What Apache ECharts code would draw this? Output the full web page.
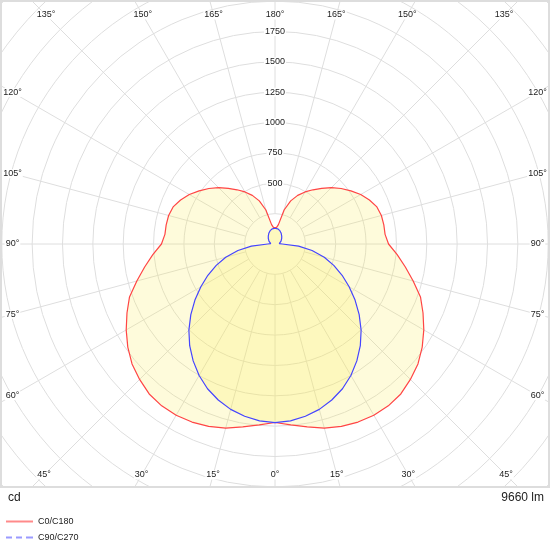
<!DOCTYPE html>
<html><head><meta charset="utf-8">
<script src="https://cdn.jsdelivr.net/npm/echarts@6/dist/echarts.min.js"></script>
<style>html,body{margin:0;padding:0;background:#fff}#c{width:550px;height:550px}</style>
</head><body><div id="c"></div>
<script>
// gamma angles (degrees)
const gamma = [0,5,10,15,20,25,30,35,40,45,50,55,60,65,70,75,80,85,90,95,100,105,110,115,120,125,130,135,140,145,150,155,160,165,170,175,180];
// C0/C180 intensities (cd)
const c0c180 = [1470,1495,1530,1570,1598,1618,1628,1627,1612,1577,1537,1480,1415,1345,1275,1178,1090,1010,935,910,910,907,893,858,815,763,711,657,598,545,495,442,378,290,162,135,125];
// C90/C270 intensities (cd)
const c90c270 = [1471,1462,1440,1410,1367,1315,1250,1175,1093,1003,905,805,705,610,515,420,310,195,60,35,40,45,50,55,60,66,72,79,86,94,102,110,117,123,127,129,130];
// tick labels
const radiusTicks = [500,750,1000,1250,1500,1750];
const angleTicks = [0,15,30,45,60,75,90,105,120,135,150,165,180];
const seriesNames = ['C0/C180','C90/C270'];
const unitLabel = 'cd';
const fluxLabel = '9660 lm';

const CX = 275, CY = 244, PX_PER_CD = 212.5/1750, RMAX = 3250;
const R = RMAX*PX_PER_CD, RIN = 250*PX_PER_CD;
const FONT = '"Liberation Sans", Arial, sans-serif';

function loop(vals){
  const d = [];
  for (let i=0;i<gamma.length;i++) d.push([vals[i], gamma[i]]);
  for (let i=gamma.length-2;i>=0;i--) d.push([vals[i], 360-gamma[i]]);
  return d;
}

const chart = echarts.init(document.getElementById('c'));
const hidden = {axisLine:{show:false},axisTick:{show:false},axisLabel:{show:false}};
chart.setOption({
  animation:false,
  polar:[{center:[CX,CY],radius:[RIN,R]},{center:[CX,CY],radius:[0,R]}],
  angleAxis:[
    Object.assign({polarIndex:0,type:'value',min:0,max:360,interval:15,startAngle:270,clockwise:false,
      splitLine:{show:true,lineStyle:{color:'#dedede',width:1}}},hidden),
    Object.assign({polarIndex:1,type:'value',min:0,max:360,interval:15,startAngle:270,clockwise:false,
      splitLine:{show:false}},hidden)
  ],
  radiusAxis:[
    Object.assign({polarIndex:0,type:'value',min:250,max:RMAX,interval:250,
      splitLine:{show:true,lineStyle:{color:'#dedede',width:1}}},hidden),
    Object.assign({polarIndex:1,type:'value',min:0,max:RMAX,interval:250,splitLine:{show:false}},hidden)
  ],
  legend:{
    orient:'vertical', left:6, top:517, padding:0, itemWidth:27, itemHeight:2, itemGap:7, z:60,
    textStyle:{fontFamily:FONT,fontSize:9,color:'#222'},
    data:[
      {name:seriesNames[0], icon:'path://M0,0h27v2h-27z', itemStyle:{color:'#ff8a8a',borderWidth:0}},
      {name:seriesNames[1], icon:'path://M0,0h6v2h-6zM10,0h6v2h-6zM20,0h7v2h-7z', itemStyle:{color:'#9a9aff',borderWidth:0}}
    ]
  },
  series:[
    {type:'line',name:seriesNames[0],coordinateSystem:'polar',polarIndex:1,data:loop(c0c180),
     symbol:'none',smooth:false,z:3,
     lineStyle:{color:'#ff4545',width:1.2},itemStyle:{color:'#ff4545'},
     areaStyle:{color:'rgba(248,235,80,0.29)'}},
    {type:'line',name:seriesNames[1],coordinateSystem:'polar',polarIndex:1,data:loop(c90c270),
     symbol:'none',smooth:false,z:4,
     lineStyle:{color:'#4545ff',width:1.2},itemStyle:{color:'#4545ff'},
     areaStyle:{color:'rgba(248,235,80,0.29)'}}
  ]
});

// labels placed with the library's polar scale
const center = chart.convertToPixel({seriesIndex:0},[0,0]);
const g = [];
g.push({type:'rect',shape:{x:0,y:488,width:550,height:62},style:{fill:'#fff'},z:50,silent:true});
g.push({type:'rect',shape:{x:1,y:1,width:548,height:486},style:{fill:null,stroke:'#dddddd',lineWidth:2},z:51,silent:true});
function txt(x,y,text,size,align){
  return {type:'text',x:x,y:y,z:60,silent:true,
    style:{text:text,font:size+'px '+FONT,fill:'#222',align:align||'center',verticalAlign:'middle',
      backgroundColor:'#fff',padding:[0,1]}};
}
radiusTicks.forEach(v=>{
  const p = chart.convertToPixel({seriesIndex:0},[v,180]);
  g.push(txt(p[0],p[1],String(v),9));
});
const L=12.5, Rr=537.5, T=15, B=475;
angleTicks.forEach(a=>{
  const angs = (a===0||a===180)?[a]:[a,360-a];
  angs.forEach(an=>{
    const p = chart.convertToPixel({seriesIndex:0},[1000,an]);
    let dx=p[0]-center[0], dy=p[1]-center[1];
    const n=Math.hypot(dx,dy); dx/=n; dy/=n;
    let t=Infinity;
    if (dx>1e-6) t=Math.min(t,(Rr-center[0])/dx);
    if (dx<-1e-6) t=Math.min(t,(L-center[0])/dx);
    if (dy>1e-6) t=Math.min(t,(B-center[1])/dy);
    if (dy<-1e-6) t=Math.min(t,(T-center[1])/dy);
    g.push(txt(center[0]+dx*t,center[1]+dy*t,a+'°',9));
  });
});
g.push(txt(7,498,unitLabel,12,'left'));
g.push(txt(545,498,fluxLabel,12,'right'));
chart.setOption({graphic:g});
</script></body></html>
